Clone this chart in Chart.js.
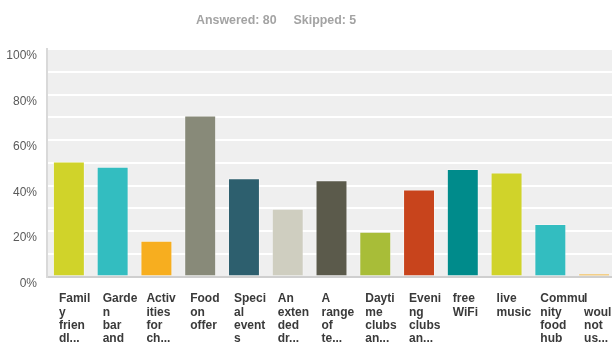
<!DOCTYPE html>
<html>
<head>
<meta charset="utf-8">
<script src="https://cdn.jsdelivr.net/npm/chart.js@4"></script>
<style>
  html, body { margin: 0; padding: 0; background: #fff; overflow: hidden; }
  #wrap { position: relative; width: 616px; height: 345px; }
  #stats { position: absolute; left: 196px; top: 12px; font: bold 12.4px "Liberation Sans", Arial, sans-serif; line-height: 16px; color: #a3a3a3; white-space: nowrap; }
  #stats span + span { margin-left: 17px; }
</style>
</head>
<body>
<div id="wrap">
  <div id="stats"><span>Answered: 80</span><span>Skipped: 5</span></div>
  <canvas id="answersChart" width="616" height="345"></canvas>
</div>
<script>
const categories = [
    ['Famil', 'y', 'frien', 'dl...'],
    ['Garde', 'n', 'bar', 'and'],
    ['Activ', 'ities', 'for', 'ch...'],
    ['Food', 'on', 'offer'],
    ['Speci', 'al', 'event', 's'],
    ['An', 'exten', 'ded', 'dr...'],
    ['A', 'range', 'of', 'te...'],
    ['Dayti', 'me', 'clubs', 'an...'],
    ['Eveni', 'ng', 'clubs', 'an...'],
    ['free', 'WiFi'],
    ['live', 'music'],
    ['Commu', 'nity', 'food', 'hub'],
    ['I', 'would', 'not', 'us...']
];
const percentages = [50.6, 48.2, 15.7, 70.8, 43.2, 29.8, 42.3, 19.7, 38.2, 47.3, 45.7, 23.1, 1.25];
const barColors = ['#d0d32a', '#33bdc0', '#f7ae1f', '#888a79', '#2d5f6e', '#cfcec0', '#5b5a4b',
                   '#a8bd38', '#c8441c', '#008b8b', '#d0d32a', '#33bdc0', '#f7ae1f'];
const yTicks = [0, 20, 40, 60, 80, 100];

const plotBackground = {
    id: 'plotBackground',
    beforeDraw(chart) {
        const { ctx, chartArea } = chart;
        ctx.save();
        ctx.fillStyle = '#efefef';
        ctx.fillRect(chartArea.left, chartArea.top, chartArea.right - chartArea.left, chartArea.bottom - chartArea.top);
        ctx.restore();
    }
};

const ctx = document.getElementById('answersChart').getContext('2d');

new Chart(ctx, {
    type: 'bar',
    data: {
        labels: categories,
        datasets: [{
            data: percentages,
            backgroundColor: barColors,
            borderColor: 'rgba(255, 255, 255, 0.35)',
            borderWidth: 1,
            categoryPercentage: 1,
            barPercentage: 0.73
        }]
    },
    options: {
        responsive: false,
        animation: false,
        layout: { padding: { top: 49, left: 0, right: 0, bottom: 0 } },
        plugins: {
            legend: { display: false },
            tooltip: { enabled: false }
        },
        scales: {
            x: {
                grid: { display: false },
                border: { display: true, color: '#cfcfcf', width: 2 },
                ticks: {
                    autoSkip: false,
                    maxRotation: 0,
                    align: 'start',
                    labelOffset: -10,
                    padding: 8,
                    color: '#3a3a3a',
                    font: { family: 'Liberation Sans, Arial, sans-serif', size: 12, weight: 'bold', lineHeight: 1.1 }
                },
                afterFit: function (scale) {
                    scale.height = 68.5;
                    scale.paddingLeft = 0;
                    scale.paddingRight = 0;
                }
            },
            y: {
                min: 0,
                max: 100,
                grid: { color: '#ffffff', lineWidth: 2, drawTicks: false },
                border: { display: true, color: '#d9d9d9', width: 2 },
                ticks: {
                    stepSize: 10,
                    padding: 10,
                    labelOffset: 7,
                    color: '#5a5a5a',
                    font: { family: 'Liberation Sans, Arial, sans-serif', size: 12 },
                    callback: function (value) {
                        return yTicks.includes(value) ? value + '%' : '';
                    }
                },
                afterFit: function (scale) {
                    scale.width = 47;
                    scale.paddingTop = 0;
                    scale.paddingBottom = 0;
                }
            }
        }
    },
    plugins: [plotBackground]
});
</script>
</body>
</html>
